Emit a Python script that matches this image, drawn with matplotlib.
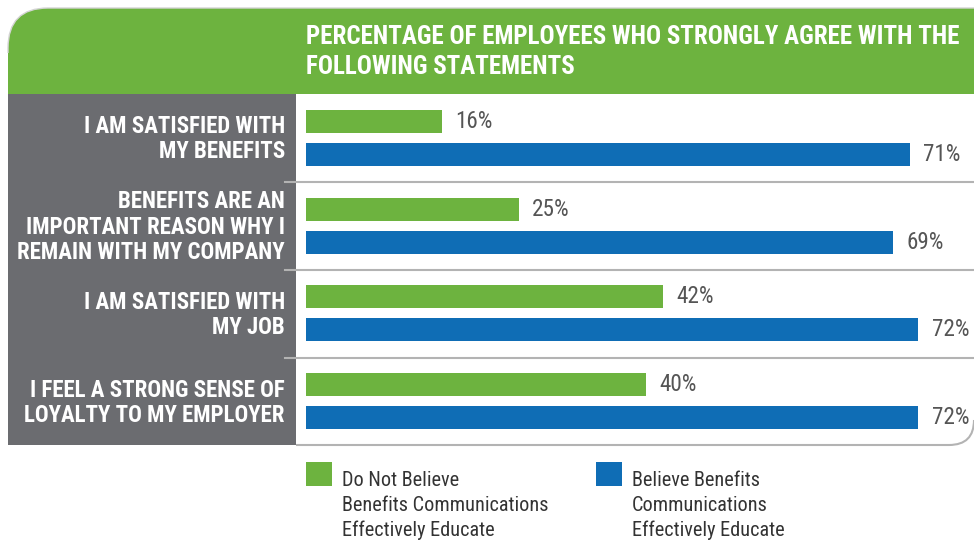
import matplotlib.pyplot as plt
from matplotlib import font_manager
from matplotlib.patches import PathPatch, Rectangle
from matplotlib.path import Path

statements = [
    "I AM SATISFIED WITH\nMY BENEFITS",
    "BENEFITS ARE AN\nIMPORTANT REASON WHY I\nREMAIN WITH MY COMPANY",
    "I AM SATISFIED WITH\nMY JOB",
    "I FEEL A STRONG SENSE OF\nLOYALTY TO MY EMPLOYER",
]
not_believe = [16, 25, 42, 40]
believe = [71, 69, 72, 72]
series_names = [
    "Do Not Believe\nBenefits Communications\nEffectively Educate",
    "Believe Benefits\nCommunications\nEffectively Educate",
]
title = "PERCENTAGE OF EMPLOYEES WHO STRONGLY AGREE WITH THE\nFOLLOWING STATEMENTS"

GREEN = "#6db33f"
BLUE = "#0f6db5"
PANEL = "#6b6c70"
RULE = "#b3b3b3"

# prefer a narrow face if one is installed
fonts = font_manager.fontManager.ttflist
names = {f.name for f in fonts}
STRETCH = "normal"
FONT = "DejaVu Sans"
for cand in ["Liberation Sans Narrow", "Roboto Condensed", "Open Sans Condensed"]:
    if cand in names:
        FONT = cand
        break
else:
    if any(f.name == "DejaVu Sans" and str(f.stretch) == "condensed" for f in fonts):
        STRETCH = "condensed"
plt.rcParams["font.family"] = FONT

W, H = 974, 542
fig = plt.figure(figsize=(W / 100, H / 100), dpi=100)
renderer = fig.canvas.get_renderer()


def fit_size(sample, width_px, weight="normal", max_size=20):
    # font size at which the sample line spans width_px
    t = fig.text(0, 0, sample, fontsize=10, fontweight=weight, fontstretch=STRETCH)
    w = t.get_window_extent(renderer).width
    t.remove()
    return min(max_size, 10 * width_px / w)


title_fs = fit_size("PERCENTAGE OF EMPLOYEES WHO STRONGLY AGREE WITH THE", 651, "bold")
cat_fs = fit_size("REMAIN WITH MY COMPANY", 267, "bold")
val_fs = fit_size("16%", 37)
leg_fs = fit_size("Benefits Communications", 205)

# background layer in pixel coordinates
bg = fig.add_axes([0, 0, 1, 1])
bg.set_xlim(0, W)
bg.set_ylim(H, 0)
bg.axis("off")

top, head_bot, body_bot = 8, 94, 445
left, panel_right = 8, 296
r = 40
head = Path(
    [(left, head_bot), (left, top + r), (left, top), (left + r, top),
     (W, top), (W, head_bot), (left, head_bot)],
    [Path.MOVETO, Path.LINETO, Path.CURVE3, Path.CURVE3,
     Path.LINETO, Path.LINETO, Path.CLOSEPOLY],
)
bg.add_patch(PathPatch(head, facecolor=GREEN, edgecolor="none"))
outline = Path(
    [(left, top + r + 5), (left, top + r), (left, top), (left + r, top), (W, top)],
    [Path.MOVETO, Path.LINETO, Path.CURVE3, Path.CURVE3, Path.LINETO],
)
bg.add_patch(PathPatch(outline, facecolor="none", edgecolor="#d4d4d4", lw=1))
bg.add_patch(Rectangle((left, head_bot), panel_right - left, body_bot - head_bot,
                       facecolor=PANEL, edgecolor="none"))

group_h = 88
group_c0 = 139
for i in range(1, len(statements)):
    y = head_bot + group_h * i
    bg.plot([285, W], [y, y], color=RULE, lw=1.5)

rc = 25
bottom = Path(
    [(panel_right, body_bot), (W - rc, body_bot), (W, body_bot), (W, body_bot - rc)],
    [Path.MOVETO, Path.LINETO, Path.CURVE3, Path.CURVE3],
)
bg.add_patch(PathPatch(bottom, facecolor="none", edgecolor=RULE, lw=1.5))

bg.text(306, 52, title, color="white", fontsize=title_fs, fontweight="bold",
        fontstretch=STRETCH, ha="left", va="center", linespacing=1.36)

for i, label in enumerate(statements):
    bg.text(285, group_c0 + group_h * i, label, color="white", fontsize=cat_fs,
            fontweight="bold", fontstretch=STRETCH, ha="right", va="center",
            linespacing=1.12)

# bars
bar_left = 306
px_per_pct = 8.5
ax = fig.add_axes([bar_left / W, 1 - body_bot / H, (W - bar_left) / W,
                   (body_bot - head_bot) / H])
ax.patch.set_alpha(0)
ax.set_xlim(0, (W - bar_left) / px_per_pct)
ax.set_ylim(len(statements) - 0.5, -0.5)
ax.axis("off")

ypos = list(range(len(statements)))
off = 16.5 / group_h
bh = 23 / group_h
ax.barh([y - off for y in ypos], not_believe, height=bh, color=GREEN)
ax.barh([y + off for y in ypos], believe, height=bh, color=BLUE)
for y, v in zip(ypos, not_believe):
    ax.text(v + 1.6, y - off, f"{v}%", color="#555555", fontsize=val_fs,
            fontstretch=STRETCH, va="center")
for y, v in zip(ypos, believe):
    ax.text(v + 1.6, y + off, f"{v}%", color="#555555", fontsize=val_fs,
            fontstretch=STRETCH, va="center")

# legend
for x, c, name in [(306, GREEN, series_names[0]), (596, BLUE, series_names[1])]:
    bg.add_patch(Rectangle((x, 462), 26, 24, facecolor=c, edgecolor="none"))
    bg.text(x + 36, 471, name, color="#333333", fontsize=leg_fs,
            fontstretch=STRETCH, ha="left", va="top", linespacing=1.39)

fig.savefig("out.png", dpi=100)
